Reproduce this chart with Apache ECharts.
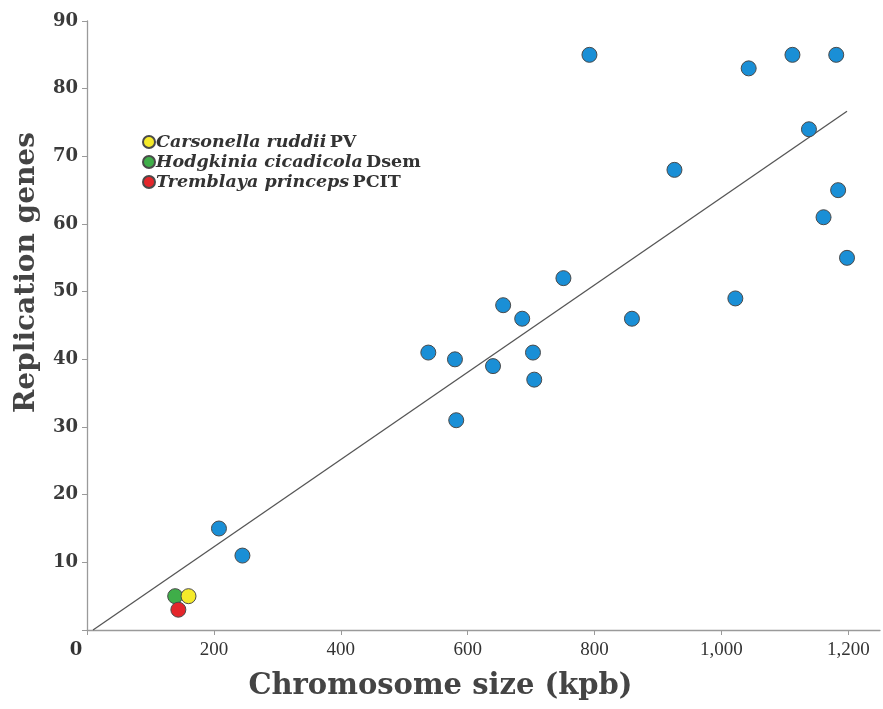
<!DOCTYPE html>
<html>
<head>
<meta charset="utf-8">
<script src="https://cdn.jsdelivr.net/npm/echarts@6/dist/echarts.min.js"></script>
<style>html,body{margin:0;padding:0;background:#fff}#c{width:883px;height:709px}</style>
</head>
<body>
<div id="c"></div>
<script>
// Chromosome size (kpb) and replication genes for the blue points
const otherSizes = [208, 245, 538, 580, 582, 640, 656, 686, 703, 705, 751, 792, 859, 926, 1022, 1043, 1112, 1181, 1138, 1184, 1161, 1198];
const otherGenes = [15, 11, 41, 40, 31, 39, 48, 46, 41, 37, 52, 85, 46, 68, 49, 83, 85, 85, 74, 65, 61, 55];

// Highlighted endosymbionts
const speciesNames = ['Carsonella ruddii', 'Hodgkinia cicadicola', 'Tremblaya princeps'];
const strainNames = ['PV', 'Dsem', 'PCIT'];
const speciesSizes = [160, 139, 144];
const speciesGenes = [5, 5, 3];
const speciesColors = ['#f5ea2a', '#3fae49', '#e4262b'];

// Trend line
const trendSlope = 0.0645;
const trendIntercept = -0.61;
const trendRange = [9.5, 1198];

const xTicks = [0, 200, 400, 600, 800, 1000, 1200];
const yTicks = [10, 20, 30, 40, 50, 60, 70, 80, 90];

const blue = '#1a8fd6';
const border = '#4a4a4a';

const series = [];
series.push({
  type: 'line',
  name: 'trend',
  data: trendRange.map(x => [x, trendSlope * x + trendIntercept]),
  showSymbol: false,
  symbol: 'none',
  silent: true,
  lineStyle: { color: '#555', width: 1.3 },
  z: 1
});
series.push({
  type: 'scatter',
  name: 'other',
  data: otherSizes.map((x, i) => [x, otherGenes[i]]),
  symbolSize: 15,
  itemStyle: { color: blue, borderColor: border, borderWidth: 1, opacity: 1 },
  z: 3
});
speciesNames.forEach((n, i) => {
  series.push({
    type: 'scatter',
    name: n + '|' + strainNames[i],
    data: [[speciesSizes[i], speciesGenes[i]]],
    symbolSize: 15,
    itemStyle: { color: speciesColors[i], borderColor: border, borderWidth: 1, opacity: 1 },
    z: 4 + (i === 1 ? 0 : 1)
  });
});

const chart = echarts.init(document.getElementById('c'), null, { renderer: 'canvas' });
chart.setOption({
  backgroundColor: '#fff',
  animation: false,
  grid: { left: 87, top: 21, right: 3, bottom: 79, containLabel: false },
  legend: {
    data: speciesNames.map((n, i) => ({ name: n + '|' + strainNames[i], icon: 'circle' })),
    orient: 'vertical',
    left: 137,
    top: 128,
    itemWidth: 12,
    itemHeight: 12,
    itemGap: 2,
    selectedMode: false,
    formatter: name => {
      const p = name.split('|');
      return '{i|' + p[0] + '} {b|' + p[1] + '}';
    },
    textStyle: {
      padding: [0, 0, 0, -4],
      rich: {
        i: { fontFamily: 'DejaVu Serif', fontStyle: 'italic', fontWeight: 'bold', fontSize: 17.5, lineHeight: 18, color: '#333' },
        b: { fontFamily: 'DejaVu Serif', fontWeight: 'bold', fontSize: 17.5, lineHeight: 18, color: '#333' }
      }
    }
  },
  xAxis: {
    type: 'value',
    min: 0,
    max: 1250,
    interval: 200,
    name: 'Chromosome size (kpb)',
    nameLocation: 'middle',
    nameGap: 42,
    nameTextStyle: { fontFamily: 'DejaVu Serif', fontWeight: 'bold', fontSize: 29, color: '#444', padding: [0, 86, 0, 0] },
    axisLine: { show: true, onZero: false, lineStyle: { color: '#9a9a9a', width: 1.3 } },
    axisTick: { show: true, length: 5, lineStyle: { color: '#9a9a9a' } },
    splitLine: { show: false },
    axisLabel: {
      showMaxLabel: false,
      margin: 11,
      fontFamily: 'Liberation Serif',
      fontSize: 19,
      color: '#333',
      formatter: v => {
        if (xTicks.indexOf(v) < 0) return '';
        if (v === 0) return '{z|0}';
        return v.toLocaleString('en-US');
      },
      rich: { z: { fontFamily: 'DejaVu Serif', fontWeight: 'bold', fontSize: 18, color: '#333', padding: [0, 22, 0, 0] } }
    }
  },
  yAxis: {
    type: 'value',
    min: 0,
    max: 90,
    interval: 10,
    name: 'Replication genes',
    nameLocation: 'middle',
    nameGap: 46,
    nameTextStyle: { fontFamily: 'DejaVu Serif', fontWeight: 'bold', fontSize: 28, color: '#444', padding: [0, 0, 0, 106] },
    axisLine: { show: true, lineStyle: { color: '#9a9a9a', width: 1.3 } },
    axisTick: { show: true, length: 5, lineStyle: { color: '#9a9a9a' } },
    splitLine: { show: false },
    axisLabel: {
      margin: 9,
      fontFamily: 'DejaVu Serif',
      fontWeight: 'bold',
      fontSize: 18,
      color: '#3a3a3a',
      formatter: v => (yTicks.indexOf(v) >= 0 ? String(v) : '')
    }
  },
  series: series
});
</script>
</body>
</html>
